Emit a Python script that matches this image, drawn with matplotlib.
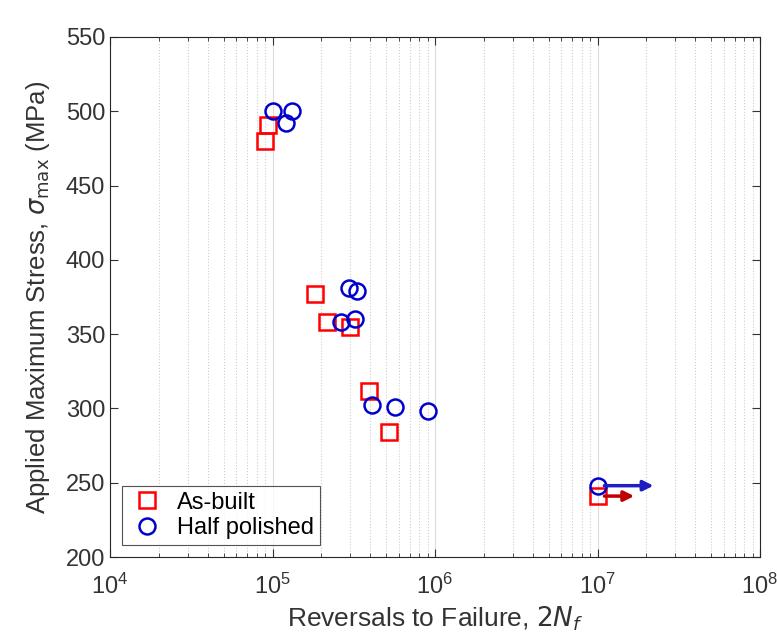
import numpy as np
import matplotlib.pyplot as plt
from matplotlib.ticker import LogLocator, NullFormatter

plt.rcParams["font.family"] = ["Liberation Sans", "DejaVu Sans"]

# As-built specimens
asbuilt_n = [9.0e4, 9.4e4, 1.83e5, 2.16e5, 3.0e5, 3.9e5, 5.2e5, 1.0e7]
asbuilt_s = [480, 491, 377, 358, 355, 312, 284, 241]

# Half polished specimens
half_n = [1.0e5, 1.21e5, 1.32e5, 2.95e5, 3.3e5, 2.63e5, 3.2e5, 4.1e5, 5.7e5, 9.1e5, 1.0e7]
half_s = [500, 492, 500, 381, 379, 358, 360, 302, 301, 298, 248]

# run-outs (no failure), arrow tip in cycles
runout_n = [1.0e7, 1.0e7]
runout_s = [241, 248]
runout_tip = [1.75e7, 2.3e7]
runout_colors = ["#c00000", "#1f1fbf"]

fig = plt.figure(figsize=(7.77, 6.4), dpi=100)
ax = fig.add_axes([110 / 777, 1 - 557 / 640, 650 / 777, 520 / 640])

ax.plot(asbuilt_n, asbuilt_s, "s", markersize=11.5, markerfacecolor="none",
        markeredgecolor="red", markeredgewidth=1.8, label="As-built", zorder=3)
ax.plot(half_n, half_s, "o", markersize=11.5, markerfacecolor="none",
        markeredgecolor="#0000cc", markeredgewidth=1.8, label="Half polished", zorder=3)

for n, s, tip, c in zip(runout_n, runout_s, runout_tip, runout_colors):
    ax.annotate("", xy=(tip, s), xytext=(n * 1.06, s),
                arrowprops=dict(arrowstyle="-|>", color=c, lw=2.5, mutation_scale=15))

ax.set_xscale("log")
ax.set_xlim(1e4, 1e8)
ax.set_ylim(200, 550)
ax.set_yticks(np.arange(200, 551, 50))
ax.xaxis.set_major_locator(LogLocator(base=10, numticks=10))
ax.xaxis.set_minor_locator(LogLocator(base=10, subs=np.arange(2, 10), numticks=50))
ax.xaxis.set_minor_formatter(NullFormatter())

ax.grid(True, which="major", axis="x", color="#dcdcdc", linewidth=0.8)
ax.grid(True, which="minor", axis="x", color="#cfcfcf", linestyle=":", linewidth=0.8)
ax.set_axisbelow(True)

ax.tick_params(which="both", direction="in", top=True, right=True,
               labelsize=17, colors="#333333", length=6)
ax.tick_params(axis="x", which="major", pad=12)
ax.tick_params(which="minor", length=3)
for sp in ax.spines.values():
    sp.set_color("#262626")
    sp.set_linewidth(0.8)

ax.set_xlabel("Reversals to Failure, $2N_f$", fontsize=19, color="#333333", labelpad=4)
ax.set_ylabel(r"Applied Maximum Stress, $\sigma_{\max}$ (MPa)", fontsize=18.5,
              color="#333333", labelpad=10)

leg = ax.legend(loc="lower left", fontsize=17, frameon=True, fancybox=False,
                edgecolor="#262626", borderaxespad=0.5, handletextpad=0.5,
                borderpad=0.25, labelspacing=0.15, handlelength=1.6)
leg.get_frame().set_linewidth(0.8)

fig.savefig("out.png", dpi=100)
